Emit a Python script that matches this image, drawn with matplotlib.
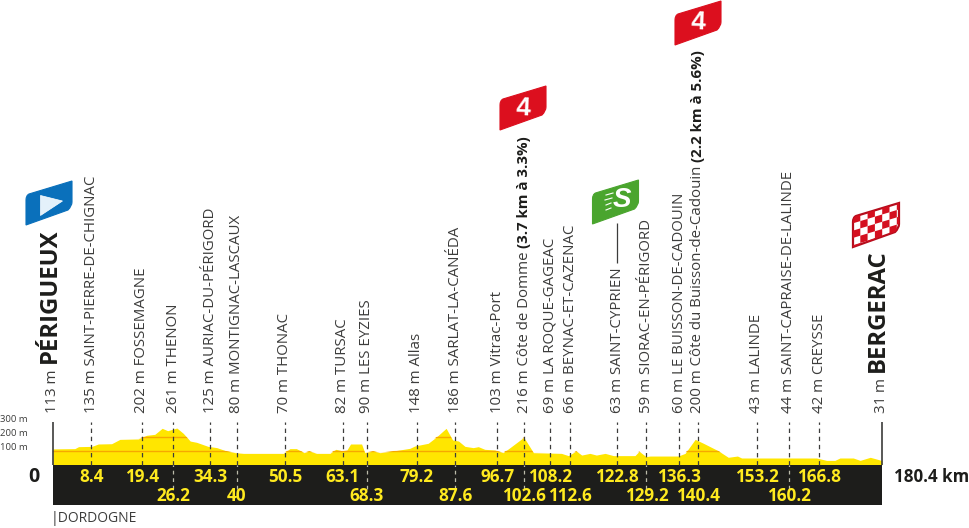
#!/usr/bin/env python3
"""Stage profile: Périgueux to Bergerac, 180.4 km."""

import matplotlib

matplotlib.use("Agg")
import matplotlib.pyplot as plt
from matplotlib.patches import PathPatch, Polygon
from matplotlib.path import Path
from matplotlib.transforms import Affine2D

# profile
profile_km = [0, 4.8, 5.6, 8.5, 9.9, 12.8, 14.6, 18.6, 20.4, 22.2, 23.8, 25, 27, 28.4, 29.9, 31.3,
              33.8, 35.7, 37.8, 39.7, 41.5, 50.2, 51.6, 53, 54.7, 55.8, 57.4, 60.3, 61.6, 62.9, 64,
              64.8, 67.2, 67.9, 69.7, 71.2, 74.1, 77.7, 78.8, 81.7, 83.4, 85.6, 87, 88.3, 89.7,
              91.5, 92.6, 94, 96.2, 98, 99.5, 102.5, 104.6, 110.7, 112.2, 113.9, 115.1, 116.9,
              118.3, 120.2, 122, 126.7, 127.6, 129.1, 130, 136.1, 137.6, 139.8, 141.6, 144.8, 147,
              149, 149.9, 166.2, 168.4, 170.2, 171.3, 174.2, 175.7, 177.9, 180, 180.4]
profile_m = [115, 117, 131, 133, 150, 152, 183, 186, 212, 219, 262, 245, 264, 226, 171, 162,
             133, 124, 100, 88, 83, 83, 117, 117, 88, 100, 83, 83, 112, 102, 107,
             150, 150, 88, 100, 88, 100, 119, 136, 155, 198, 262, 179, 171, 133,
             124, 131, 112, 107, 88, 124, 198, 88, 83, 67, 100, 71, 83,
             71, 83, 67, 67, 98, 60, 64, 64, 83, 183, 155, 102, 55,
             64, 50, 50, 33, 33, 50, 50, 33, 55, 36, 31]

# waypoints
point_km = [8.4, 19.4, 26.2, 34.3, 40, 50.5, 63.1, 68.3, 79.2, 87.6, 96.7, 102.6,
            108.2, 112.6, 122.8, 129.2, 136.3, 140.4, 153.2, 160.2, 166.8]
point_names = ["135 m SAINT-PIERRE-DE-CHIGNAC", "202 m FOSSEMAGNE", "261 m THENON",
               "125 m AURIAC-DU-PÉRIGORD", "80 m MONTIGNAC-LASCAUX", "70 m THONAC",
               "82 m TURSAC", "90 m LES EYZIES", "148 m Allas", "186 m SARLAT-LA-CANÉDA",
               "103 m Vitrac-Port", "216 m Côte de Domme ", "69 m LA ROQUE-GAGEAC",
               "66 m BEYNAC-ET-CAZENAC", "63 m SAINT-CYPRIEN", "59 m SIORAC-EN-PÉRIGORD",
               "60 m LE BUISSON-DE-CADOUIN", "200 m Côte du Buisson-de-Cadouin ",
               "43 m LALINDE", "44 m SAINT-CAPRAISE-DE-LALINDE", "42 m CREYSSE"]
point_bold = {102.6: "(3.7 km à 3.3%)", 140.4: "(2.2 km à 5.6%)"}
upper_row_km = [8.4, 19.4, 34.3, 50.5, 63.1, 79.2, 96.7, 108.2, 122.8, 136.3, 153.2, 166.8]
lower_row_km = [26.2, 40, 68.3, 87.6, 102.6, 112.6, 129.2, 140.4, 160.2]
dashed_in_band_km = [26.2, 40, 68.3, 87.6, 102.6, 129.2, 160.2]
scale_m = [100, 200, 300]
total_km = 180.4

BLACK = "#1d1d1b"
YELLOW = "#ffe600"
LABEL_YELLOW = "#ffea1f"
ORANGE = "#f6a800"
GREY = "#3c3c3b"
FONT = "Open Sans"
NARROW = ["Liberation Sans Narrow", "Liberation Sans"]

# pixels per km / per metre, the figure is mapped to these through the limits
KM_PX = 4.595
KM_ORIGIN_PX = 52.8
M_PX = 0.14
M_ORIGIN_PX = 465
BAND_BOTTOM_M = -(505 - M_ORIGIN_PX) / M_PX
ROW1_M = -(477 - M_ORIGIN_PX) / M_PX
ROW2_M = -(496 - M_ORIGIN_PX) / M_PX

FLAG = Path(
    [(0, 44), (0, 19), (0, 14.5), (3, 13), (46, 0), (46, 21), (46, 25), (42, 29), (0, 44), (0, 44)],
    [Path.MOVETO, Path.LINETO, Path.CURVE3, Path.CURVE3, Path.LINETO, Path.LINETO,
     Path.CURVE3, Path.CURVE3, Path.LINETO, Path.CLOSEPOLY],
)


def draw_flag(deco, x, y, color, edge=None):
    """Draw the slanted flag shape with its top left at x, y (pixels)."""
    patch = PathPatch(FLAG, facecolor=color, edgecolor=edge or color, linewidth=0.8,
                      transform=Affine2D().translate(x, y) + deco.transData, zorder=3)
    deco.add_patch(patch)
    return patch


def draw_checker(deco, x, y):
    red = "#d40f1f"
    patch = draw_flag(deco, x, y, "white", edge="#b50d1c")
    patch.set_linewidth(1.6)
    cell_w, cell_h = 7.3, 7.3
    slope = -13 / 43
    for col in range(7):
        for row in range(-1, 7):
            if (col + row) % 2:
                continue
            x0 = x + col * cell_w
            x1 = x0 + cell_w
            y0 = y + 13 + row * cell_h
            corners = [(x0, y0 + slope * col * cell_w), (x1, y0 + slope * (col + 1) * cell_w),
                       (x1, y0 + cell_h + slope * (col + 1) * cell_w),
                       (x0, y0 + cell_h + slope * col * cell_w)]
            square = Polygon(corners, facecolor=red, edgecolor="none", zorder=4)
            deco.add_patch(square)
            square.set_clip_path(patch)


def main():
    fig = plt.figure(figsize=(9.7, 5.28), dpi=100)
    ax = fig.add_axes([0, 0, 1, 1])
    ax.set_xlim(-KM_ORIGIN_PX / KM_PX, (970 - KM_ORIGIN_PX) / KM_PX)
    ax.set_ylim(-(528 - M_ORIGIN_PX) / M_PX, M_ORIGIN_PX / M_PX)
    ax.axis("off")

    # profile and the black distance band
    fill = ax.fill_between(profile_km, profile_m, 0, color=YELLOW, linewidth=0, zorder=1)
    for level in scale_m[:2]:
        line = ax.axhline(level, color=ORANGE, linewidth=1, zorder=1.5)
        line.set_clip_path(fill.get_paths()[0], fill.get_transform())
    ax.fill_between([0, total_km], BAND_BOTTOM_M, 0, color=BLACK, linewidth=0, zorder=1.6)

    # dashed waypoint lines
    ax.vlines(point_km, 0, 310, color=GREY, linewidth=0.9, linestyles=(0, (3.5, 3)), zorder=2)
    ax.vlines(dashed_in_band_km, -170, 0, color="#bbbbaa", linewidth=0.9,
              linestyles=(0, (3, 3)), zorder=2)
    ax.vlines([0, total_km], 0, 310, color=GREY, linewidth=1.2, zorder=2)

    # distances
    for km in upper_row_km:
        ax.text(km, ROW1_M, f"{km:g}", color=LABEL_YELLOW, family=FONT, weight="bold",
                fontsize=12.3, ha="center", va="center", zorder=3)
    for km in lower_row_km:
        ax.text(km, ROW2_M, f"{km:g}", color=LABEL_YELLOW, family=FONT, weight="bold",
                fontsize=12.3, ha="center", va="center", zorder=3)

    # waypoint names
    name_m = (M_ORIGIN_PX - 413) / M_PX
    style = dict(family=FONT, fontsize=10.8, color=GREY, rotation=90, ha="center", va="bottom")
    for km, name in zip(point_km, point_names):
        label = ax.text(km, name_m, name, **style)
        if km in point_bold:
            ax.annotate(point_bold[km], xy=(0.5, 1), xycoords=label, weight="bold",
                        **{**style, "color": BLACK})

    # start and finish
    start = ax.text(0, name_m, "113 m", **style)
    finish = ax.text(total_km, name_m, "31 m", **style)
    for anchor, town, xshift, yshift in ((start, "PÉRIGUEUX", -2, 5), (finish, "BERGERAC", -3, 4)):
        ax.annotate(town, xy=(0.5, 1), xycoords=anchor, xytext=(xshift, yshift),
                    textcoords="offset points", family=FONT, weight="bold", fontsize=17.2,
                    color=BLACK, rotation=90, ha="center", va="bottom")

    ax.text(-2.9, ROW1_M, "0", family=FONT, weight="bold", fontsize=14, color=BLACK,
            ha="right", va="center")
    ax.text(total_km + 2.6, ROW1_M, f"{total_km} km", family=FONT, weight="bold", fontsize=12.2,
            color=BLACK, ha="left", va="center")

    # height scale, the labels sit a little above their lines
    for level in scale_m:
        ax.text(-11.5, level + 22, f"{level} m", family=FONT, fontsize=6.8, color=GREY,
                ha="left", va="center")

    ax.text(-0.5, -(519 - M_ORIGIN_PX) / M_PX, "|DORDOGNE", family=FONT, fontsize=10, color=GREY,
            ha="left", va="center")

    # climbing line next to SAINT-CYPRIEN
    ax.vlines(122.8, (M_ORIGIN_PX - 263) / M_PX, (M_ORIGIN_PX - 223) / M_PX, color=GREY,
              linewidth=0.9)

    # flags live on a pixel overlay
    deco = fig.add_axes([0, 0, 1, 1], facecolor="none")
    deco.set_xlim(0, 970)
    deco.set_ylim(528, 0)
    deco.axis("off")

    draw_flag(deco, 26, 181, "#0a70bb")
    deco.add_patch(Polygon([(40.5, 195.5), (62.5, 201), (40.5, 215.5)], facecolor="#e4f1fa",
                           edgecolor="white", linewidth=0.5, zorder=4))
    draw_flag(deco, 500, 86, "#dc0f1e")
    draw_flag(deco, 675, 1, "#dc0f1e")
    for x, y in ((523, 108), (698, 22)):
        deco.text(x, y, "4", color="white", family=NARROW, weight="bold", fontsize=19,
                  ha="center", va="center", rotation=-2, zorder=5)
    draw_flag(deco, 592.5, 180, "#4aa52e")
    deco.text(622, 200, "S", color="white", family=NARROW, weight="bold", fontsize=20,
              style="italic", ha="center", va="center", zorder=5)
    for y, x0, x1 in ((194, 606, 613), (199, 605, 612), (204, 606, 611), (209, 606, 611)):
        deco.plot([x0, x1], [y + 1, y - 1], color="white", linewidth=0.8, zorder=5)
    draw_checker(deco, 853, 203)

    fig.savefig("out.png", dpi=100)


if __name__ == "__main__":
    main()
